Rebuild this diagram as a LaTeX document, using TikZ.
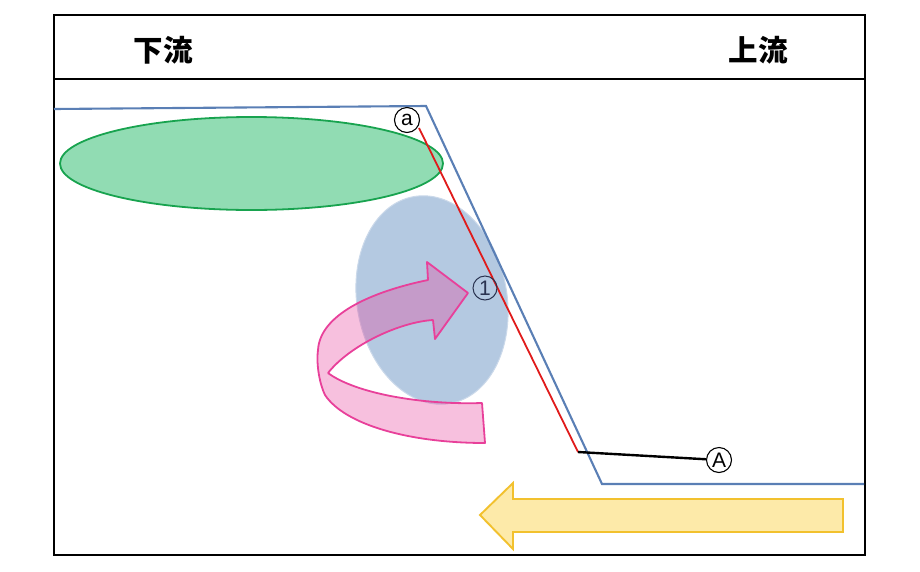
\documentclass[tikz,border=0pt]{standalone}
\usepackage{fontspec}
\setmainfont{Liberation Sans}
\newfontfamily\cjk{Noto Sans CJK JP}
\definecolor{riverblue}{HTML}{5A7FB5}
\definecolor{redline}{HTML}{E01B1B}
\definecolor{greenfill}{HTML}{91DCB3}
\definecolor{greenline}{HTML}{18A34F}
\definecolor{bluefill}{HTML}{B4C9E1}
\definecolor{pinkline}{HTML}{E8409A}
\definecolor{yellowfill}{HTML}{FDEAA9}
\definecolor{yellowline}{HTML}{F2C12E}
\definecolor{labelnavy}{HTML}{2A3350}
\begin{document}
\begin{tikzpicture}[x=1pt,y=-1pt,
  header/.style={font=\cjk\bfseries\fontsize{29.5}{31}\selectfont, inner sep=0pt},
  circlabel/.style={circle, draw, line width=1.1pt, minimum size=25pt, inner sep=0pt, font=\fontsize{21}{21}\selectfont},
  ribbonfill/.style={fill=pinkline, fill opacity=0.33, draw=none},
  ribbonedge/.style={draw=pinkline, line width=1.8pt, line join=round}
]
\useasboundingbox (0,0) rectangle (920,571);
% frame
\draw[line width=1.6pt] (54,15) rectangle (865,555);
\draw[line width=1.6pt] (54,79) -- (865,79);
\node[header] (down) at (163,50) {下流};
\node[header] (up) at (758,50) {上流};
% green ellipse
\draw[fill=greenfill, draw=greenline, line width=1.8pt] (251.5,163.5) ellipse [x radius=191.5, y radius=46.5];
% blue ellipse
\draw[fill=bluefill, draw=bluefill!70!white, line width=1pt, rotate around={10:(432,300)}] (432,300) ellipse [x radius=75, y radius=105];
% river line
\draw[riverblue, line width=2.1pt, line join=miter] (54,109) -- (426,106) -- (602,484) -- (864,484);
% red and black lines
\coordinate (rtop) at (419,128);
\coordinate (rbot) at (578,452);
\draw[redline, line width=1.8pt] (rtop) -- (rbot);
\node[circlabel] (la) at (407,120) {a};
\node[circlabel] (lA) at (719,460) {A};
\draw[line width=2.4pt] (rbot) -- (lA);
% yellow arrow
\draw[fill=yellowfill, draw=yellowline, line width=1.9pt, line join=miter]
  (843,499) -- (513,499) -- (513,483) -- (480,515) -- (513,549) -- (513,532) -- (843,532) -- cycle;
% pink curved arrow: back ribbon
\path[ribbonfill] (328,373) .. controls (355,393) and (420,405) .. (482,403) -- (485,443)
  .. controls (410,443) and (345,425) .. (325,395) -- cycle;
% front ribbon with head
\path[ribbonfill] (325,395) .. controls (320,385) and (316,365) .. (318,350)
  .. controls (320,315) and (370,292) .. (428,280) -- (427,262) -- (468,293) -- (435,339) -- (433,320)
  .. controls (400,322) and (350,345) .. (328,373) -- cycle;
\draw[ribbonedge] (328,373) .. controls (355,393) and (420,405) .. (482,403) -- (485,443)
  .. controls (410,443) and (345,425) .. (325,395) .. controls (320,385) and (316,365) .. (318,350)
  .. controls (320,315) and (370,292) .. (428,280) -- (427,262) -- (468,293) -- (435,339) -- (433,320)
  .. controls (400,322) and (350,345) .. (328,373);
% circled 1
\node[circlabel, draw=labelnavy, text=labelnavy, line width=1pt, minimum size=24pt] (l1) at (485,288) {1};
\end{tikzpicture}
\end{document}
